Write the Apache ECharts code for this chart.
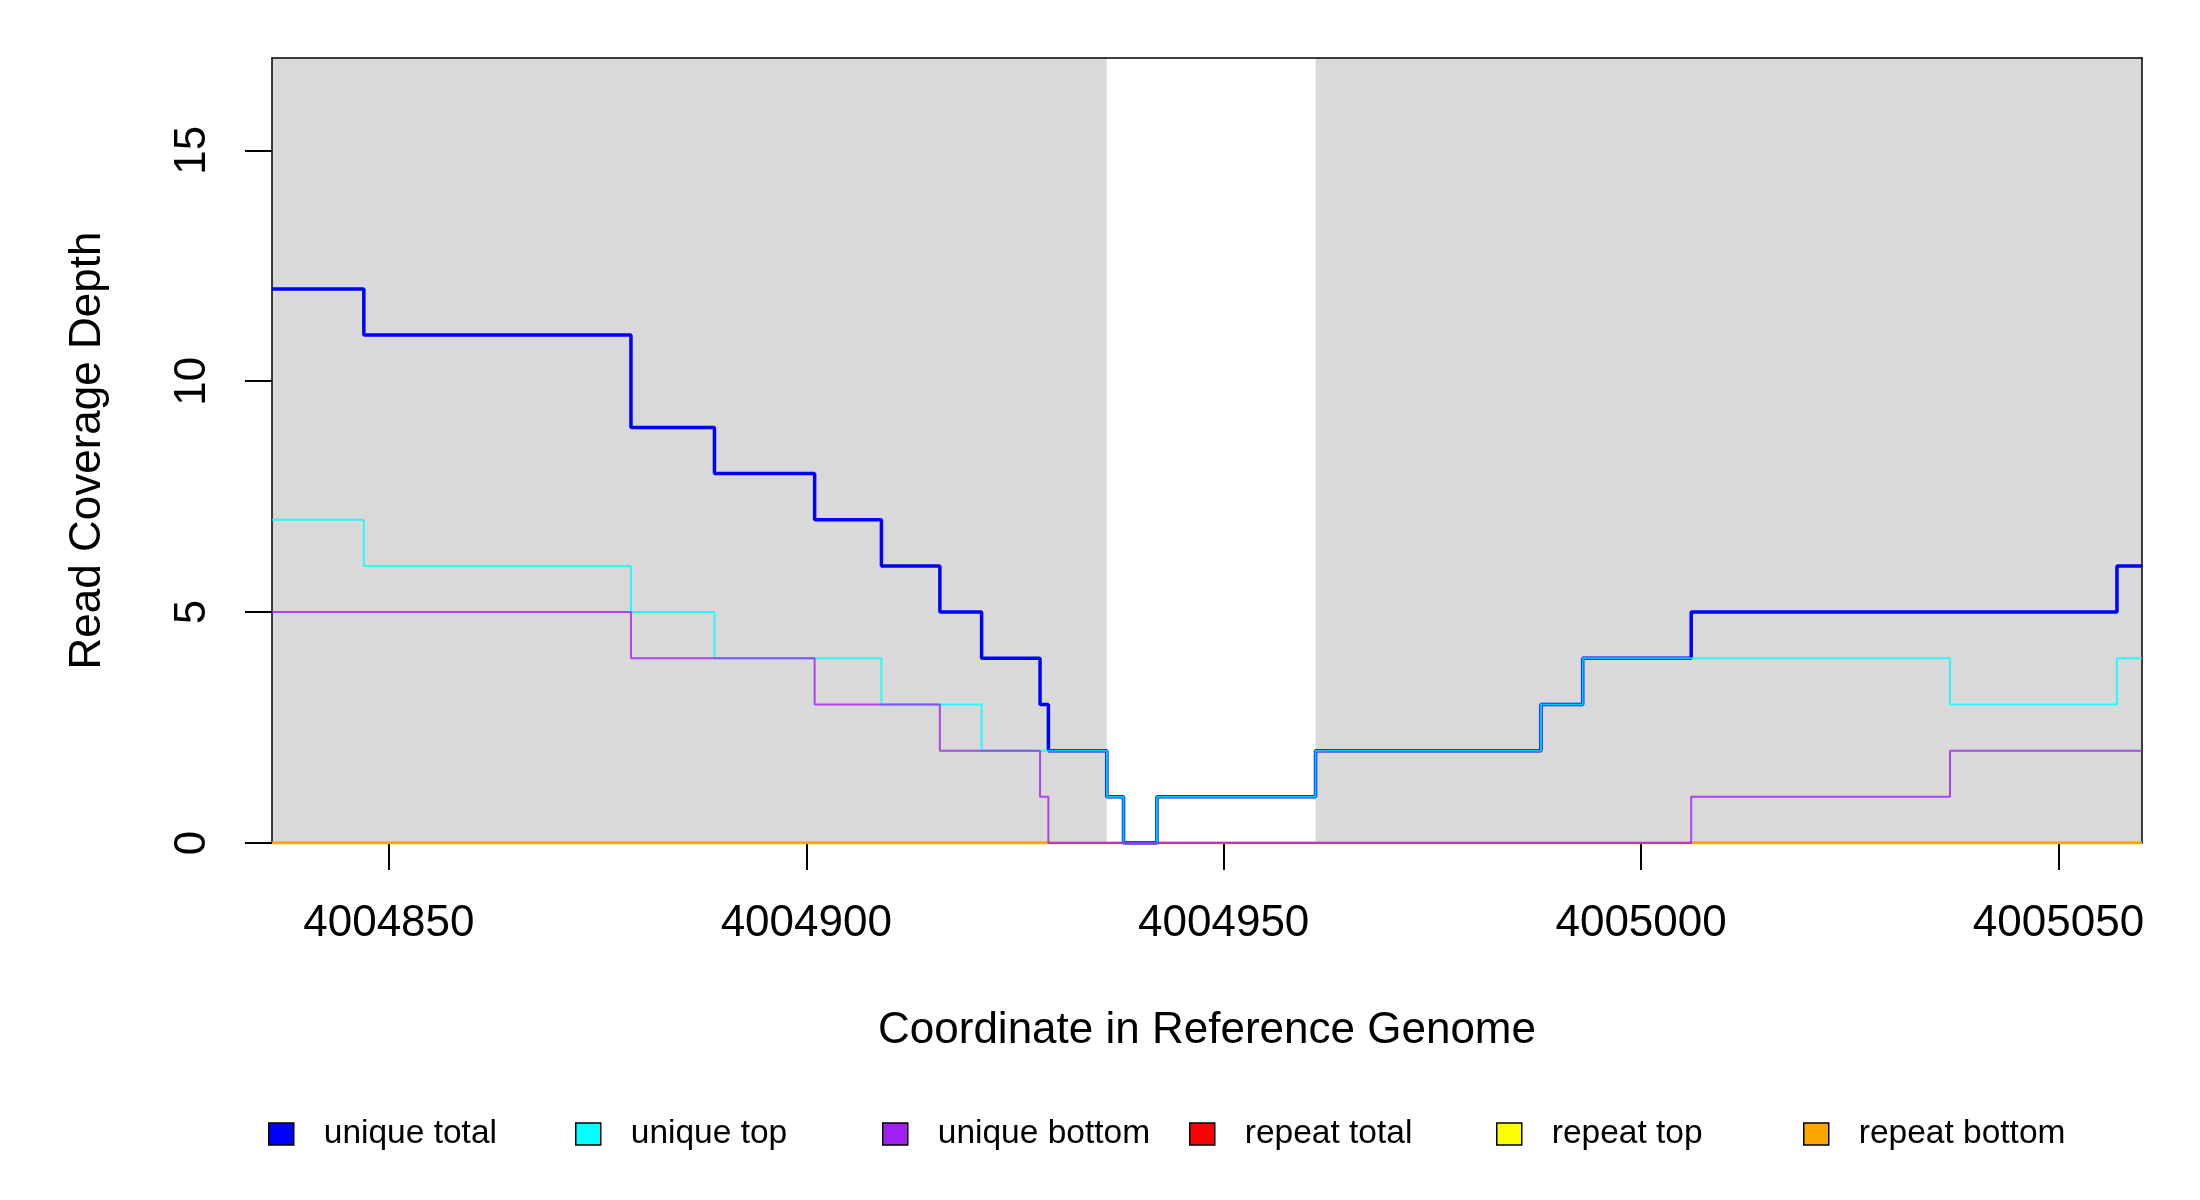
<!DOCTYPE html>
<html>
<head>
<meta charset="utf-8">
<script src="https://cdn.jsdelivr.net/npm/echarts@6/dist/echarts.min.js"></script>
<style>
  html, body { margin: 0; padding: 0; background: #fff; }
  #main { width: 2200px; height: 1200px; }
</style>
</head>
<body>
<div id="main"></div>
<script>
// step breakpoints: value holds from x[i] until x[i+1]
var xMin = 4004836, xMax = 4005060;
var xTicks = [4004850, 4004900, 4004950, 4005000, 4005050];
var yTicks = [0, 5, 10, 15];

var uniqueTotalX = [4004836, 4004847, 4004879, 4004889, 4004901, 4004909, 4004916, 4004921, 4004928, 4004929, 4004936, 4004938, 4004942, 4004961, 4004988, 4004993, 4005006, 4005057, 4005060];
var uniqueTotalY = [12, 11, 9, 8, 7, 6, 5, 4, 3, 2, 1, 0, 1, 2, 3, 4, 5, 6, 6];

var uniqueTopX = [4004836, 4004847, 4004879, 4004889, 4004909, 4004921, 4004936, 4004938, 4004942, 4004961, 4004988, 4004993, 4005037, 4005057, 4005060];
var uniqueTopY = [7, 6, 5, 4, 3, 2, 1, 0, 1, 2, 3, 4, 3, 4, 4];

var uniqueBottomX = [4004836, 4004879, 4004901, 4004916, 4004928, 4004929, 4005006, 4005037, 4005060];
var uniqueBottomY = [5, 4, 3, 2, 1, 0, 1, 2, 2];

var repeatX = [4004836, 4005060];
var repeatTotalY = [0, 0];
var repeatTopY = [0, 0];
var repeatBottomY = [0, 0];

// grey blocks (regions) along the coordinate axis
var regions = [[4004836, 4004936], [4004961, 4005060]];

var names = ['unique total', 'unique top', 'unique bottom', 'repeat total', 'repeat top', 'repeat bottom'];
var colors = ['#0000ff', '#00ffff', '#a020f0', '#ff0000', '#ffff00', '#ffa500'];

function pts(xs, ys) {
  var out = [];
  for (var i = 0; i < xs.length; i++) out.push([xs[i], ys[i]]);
  return out;
}

function stepSeries(idx, xs, ys, width, opacity) {
  return {
    name: names[idx],
    type: 'line',
    step: 'end',
    symbol: 'none',
    z: 4,
    data: pts(xs, ys),
    itemStyle: { color: colors[idx] },
    lineStyle: { color: colors[idx], width: width, opacity: opacity }
  };
}

var font = 'Liberation Sans';

// one legend per entry so the columns are evenly spaced like R's horizontal legend
var legends = names.map(function (n, i) {
  return {
    data: [n],
    left: 268 + 307 * i,
    top: 1117,
    padding: 0,
    icon: 'rect',
    itemWidth: 25,
    itemHeight: 22,
    itemStyle: { borderColor: '#000', borderWidth: 1.5 },
    textStyle: { fontFamily: font, fontSize: 33.5, color: '#000', padding: [0, 0, 0, 25] }
  };
});

var myChart = echarts.init(document.getElementById('main'), null, { renderer: 'canvas' });

var option = {
  animation: false,
  backgroundColor: '#fff',
  textStyle: { fontFamily: font, color: '#000' },
  grid: { left: 272, right: 58, top: 58, bottom: 357, containLabel: false },
  legend: legends,
  xAxis: [{
    type: 'value',
    min: xMin, max: xMax,
    z: 3,
    name: 'Coordinate in Reference Genome',
    nameLocation: 'middle',
    nameGap: 166,
    nameTextStyle: { fontFamily: font, fontSize: 44, color: '#000' },
    axisLine: { show: true, onZero: false, lineStyle: { color: '#000', width: 1.5 } },
    axisTick: { show: true, length: 27, lineStyle: { color: '#000', width: 2 }, customValues: xTicks },
    axisLabel: { fontFamily: font, fontSize: 44, color: '#000', margin: 59, customValues: xTicks,
                 formatter: function (v) { return String(v); } },
    splitLine: { show: false }
  }, {
    type: 'value',
    position: 'top',
    min: xMin, max: xMax,
    z: 3,
    axisLine: { show: true, onZero: false, lineStyle: { color: '#000', width: 1.5 } },
    axisTick: { show: false },
    axisLabel: { show: false },
    splitLine: { show: false }
  }],
  yAxis: [{
    type: 'value',
    min: 0, max: 17,
    z: 3,
    name: 'Read Coverage Depth',
    nameLocation: 'middle',
    nameRotate: 90,
    nameGap: 162,
    nameTextStyle: { fontFamily: font, fontSize: 44, color: '#000' },
    axisLine: { show: true, onZero: false, lineStyle: { color: '#000', width: 1.5 } },
    axisTick: { show: true, length: 27, lineStyle: { color: '#000', width: 2 }, customValues: yTicks },
    axisLabel: { fontFamily: font, fontSize: 44, color: '#000', margin: 57, rotate: 90, customValues: yTicks },
    splitLine: { show: false }
  }, {
    type: 'value',
    position: 'right',
    min: 0, max: 17,
    z: 3,
    axisLine: { show: true, onZero: false, lineStyle: { color: '#000', width: 1.5 } },
    axisTick: { show: false },
    axisLabel: { show: false },
    splitLine: { show: false }
  }],
  series: [
    {
      name: 'regions',
      type: 'line',
      z: 1,
      data: [],
      silent: true,
      markArea: {
        silent: true,
        itemStyle: { color: '#d9d9d9', opacity: 1 },
        data: regions.map(function (r) { return [{ xAxis: r[0] }, { xAxis: r[1] }]; })
      }
    },
    stepSeries(3, repeatX, repeatTotalY, 2.5, 1),
    stepSeries(4, repeatX, repeatTopY, 2.5, 1),
    stepSeries(5, repeatX, repeatBottomY, 2.5, 1),
    stepSeries(0, uniqueTotalX, uniqueTotalY, 3.5, 1),
    stepSeries(1, uniqueTopX, uniqueTopY, 2, 0.8),
    stepSeries(2, uniqueBottomX, uniqueBottomY, 2, 0.8)
  ]
};

myChart.setOption(option);
</script>
</body>
</html>
